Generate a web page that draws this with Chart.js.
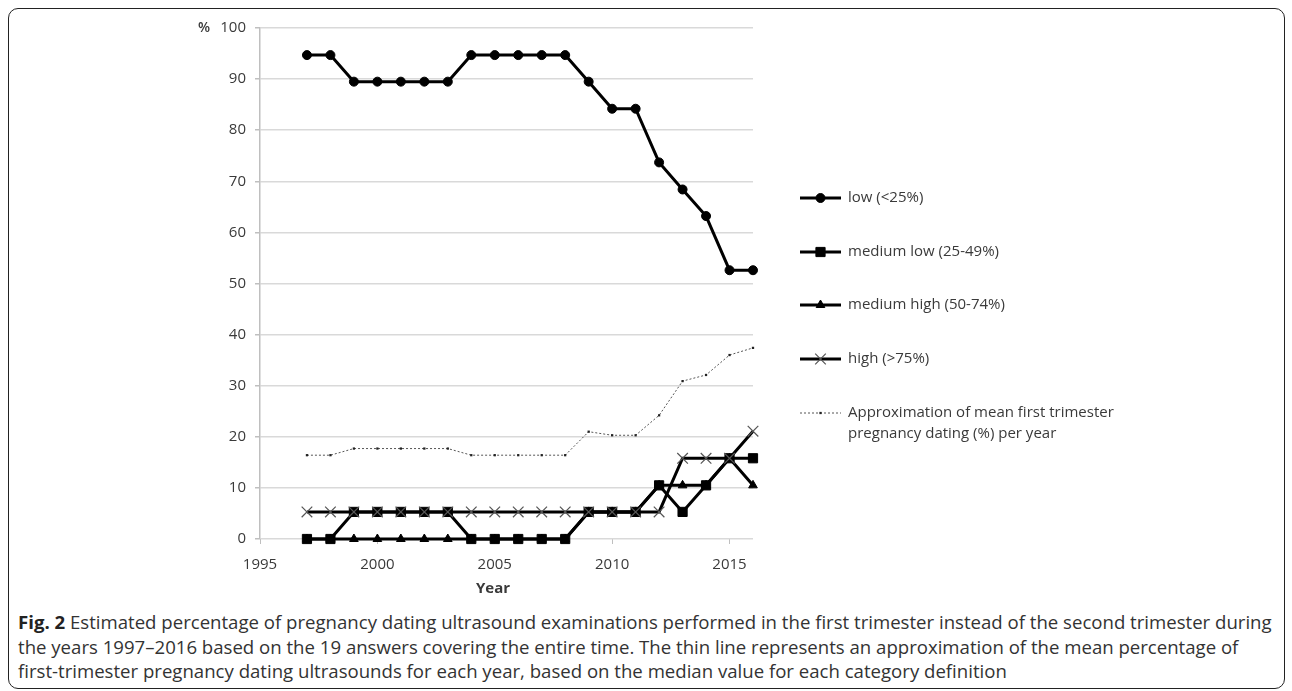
<!DOCTYPE html>
<html>
<head>
<meta charset="utf-8">
<script src="https://cdn.jsdelivr.net/npm/chart.js@4/dist/chart.umd.min.js"></script>
<style>
  body { margin: 0; background: #fff; }
  #page { position: relative; width: 1292px; height: 691px; overflow: hidden; }
  #frame {
    position: absolute; left: 8px; top: 8px; width: 1277px; height: 681px;
    border: 1.5px solid #222; border-radius: 10px; box-sizing: border-box;
  }
  #chartBox { position: absolute; left: 0; top: 0; width: 1292px; height: 600px; }
  #caption {
    position: absolute; left: 18px; top: 610px; width: 1270px;
    font-family: "Open Sans", sans-serif; font-size: 18.6px; line-height: 24.5px; color: #333;
    white-space: nowrap;
  }
  #caption b { color: #222; }
</style>
</head>
<body>
<div id="page">
  <div id="frame"></div>
  <div id="chartBox"><canvas id="chart" width="1292" height="600"></canvas></div>
  <div id="caption">
    <div><b>Fig. 2</b> Estimated percentage of pregnancy dating ultrasound examinations performed in the first trimester instead of the second trimester during</div>
    <div>the years 1997–2016 based on the 19 answers covering the entire time. The thin line represents an approximation of the mean percentage of</div>
    <div>first-trimester pregnancy dating ultrasounds for each year, based on the median value for each category definition</div>
  </div>
</div>
<script>
// data (19 answers -> steps of ~5.26 %)
const years = [1997, 1998, 1999, 2000, 2001, 2002, 2003, 2004, 2005, 2006,
               2007, 2008, 2009, 2010, 2011, 2012, 2013, 2014, 2015, 2016];
const lowValues = [94.7, 94.7, 89.5, 89.5, 89.5, 89.5, 89.5, 94.7, 94.7, 94.7,
                   94.7, 94.7, 89.5, 84.2, 84.2, 73.7, 68.4, 63.2, 52.6, 52.6];
const mediumLowValues = [0, 0, 5.3, 5.3, 5.3, 5.3, 5.3, 0, 0, 0,
                         0, 0, 5.3, 5.3, 5.3, 10.5, 5.3, 10.5, 15.8, 15.8];
const mediumHighValues = [0, 0, 0, 0, 0, 0, 0, 0, 0, 0,
                          0, 0, 5.3, 5.3, 5.3, 10.5, 10.5, 10.5, 15.8, 10.5];
const highValues = [5.3, 5.3, 5.3, 5.3, 5.3, 5.3, 5.3, 5.3, 5.3, 5.3,
                    5.3, 5.3, 5.3, 5.3, 5.3, 5.3, 15.8, 15.8, 15.8, 21.1];
const meanValues = [16.4, 16.4, 17.7, 17.7, 17.7, 17.7, 17.7, 16.4, 16.4, 16.4,
                    16.4, 16.4, 21.0, 20.3, 20.3, 24.2, 30.9, 32.1, 36.0, 37.4];
const seriesLabels = ["low (<25%)", "medium low (25-49%)", "medium high (50-74%)", "high (>75%)"];
const meanLabel = ["Approximation of mean first trimester", "pregnancy dating (%) per year"];
const xTicks = [1995, 2000, 2005, 2010, 2015];

const textColor = "#3a3a3a";
const font = { family: "Open Sans", size: 15 };

const pts = vals => years.map((y, i) => ({ x: y, y: vals[i] }));

function solidSeries(label, vals, style, radius, order, extra) {
    return Object.assign({
        label: label,
        data: pts(vals),
        borderColor: "#000",
        borderWidth: 3,
        pointStyle: style,
        pointRadius: radius,
        pointBackgroundColor: "#000",
        pointBorderColor: "#000",
        pointBorderWidth: 1,
        order: order,
        clip: false,
        tension: 0
    }, extra || {});
}

const datasets = [
    solidSeries(seriesLabels[0], lowValues, "circle", 4.5, 4),
    solidSeries(seriesLabels[1], mediumLowValues, "rect", 6.5, 3),
    solidSeries(seriesLabels[2], mediumHighValues, "triangle", 5, 2),
    solidSeries(seriesLabels[3], highValues, "crossRot", 7.5, 1,
        { pointBorderColor: "#555", pointBorderWidth: 1.2 }),
    {
        label: meanLabel.join(" "),
        data: pts(meanValues),
        borderColor: "#555",
        borderWidth: 1,
        borderDash: [2, 2],
        pointStyle: "rect",
        pointRadius: 1.6,
        pointBackgroundColor: "#222",
        pointBorderColor: "#222",
        pointBorderWidth: 0,
        order: 0,
        clip: false,
        tension: 0
    }
];

// legend drawn like the Excel one: line with the marker in its middle
const legendPlugin = {
    id: "excelLegend",
    afterDraw(chart) {
        const ctx = chart.ctx;
        const x0 = 800, x1 = 841, tx = 848;
        const rows = [198, 252, 305, 359, 413];
        ctx.save();
        chart.data.datasets.forEach((ds, i) => {
            const y = rows[i];
            ctx.beginPath();
            ctx.strokeStyle = ds.borderColor;
            ctx.lineWidth = ds.borderWidth;
            ctx.setLineDash(ds.borderDash || []);
            ctx.moveTo(x0, y);
            ctx.lineTo(x1, y);
            ctx.stroke();
            ctx.setLineDash([]);
            ctx.fillStyle = ds.pointBackgroundColor;
            ctx.strokeStyle = ds.pointBorderColor;
            ctx.lineWidth = ds.pointBorderWidth;
            Chart.helpers.drawPoint(ctx, {
                pointStyle: ds.pointStyle,
                radius: ds.pointRadius,
                rotation: 0,
                borderWidth: ds.pointBorderWidth
            }, (x0 + x1) / 2, y);
            ctx.fillStyle = textColor;
            ctx.font = "15px 'Open Sans'";
            ctx.textBaseline = "middle";
            ctx.textAlign = "left";
            if (i < seriesLabels.length) {
                ctx.fillText(ds.label, tx, y);
            } else {
                ctx.fillText(meanLabel[0], tx, y);
                ctx.fillText(meanLabel[1], tx, y + 21);
            }
        });
        // "%" unit label next to the top tick, and the x axis title
        ctx.font = "600 14px 'Open Sans'";
        ctx.textAlign = "center";
        ctx.fillText("%", 204, chart.scales.y.getPixelForValue(100));
        ctx.font = "bold 15px 'Open Sans'";
        ctx.fillText("Year", 493, chart.scales.x.bottom - 11);
        ctx.restore();
    }
};

new Chart(document.getElementById("chart"), {
    type: "line",
    data: { datasets: datasets },
    options: {
        responsive: false,
        animation: false,
        events: [],
        layout: { padding: { left: 0, right: 539, top: 28, bottom: 0 } },
        plugins: { legend: { display: false }, tooltip: { enabled: false } },
        scales: {
            x: {
                type: "linear",
                min: 1995,
                max: 2016,
                afterBuildTicks: s => { s.ticks = xTicks.map(v => ({ value: v })); },
                afterFit: s => { s.height = 61; },
                ticks: { color: textColor, font: font, padding: 12, maxRotation: 0,
                         callback: v => String(v) },
                grid: { drawOnChartArea: false, drawTicks: true, tickLength: 5, color: "#bfbfbf", lineWidth: 1 },
                border: { display: false }
            },
            y: {
                min: 0,
                max: 100,
                afterFit: s => { s.width = 260; },
                ticks: { stepSize: 10, color: textColor, font: font, padding: 9 },
                grid: { color: "#d9d9d9", lineWidth: 1.5, tickLength: 5, tickColor: "#bfbfbf" },
                border: { display: true, color: "#bfbfbf", width: 1.5 }
            }
        }
    },
    plugins: [legendPlugin]
});
</script>
</body>
</html>
